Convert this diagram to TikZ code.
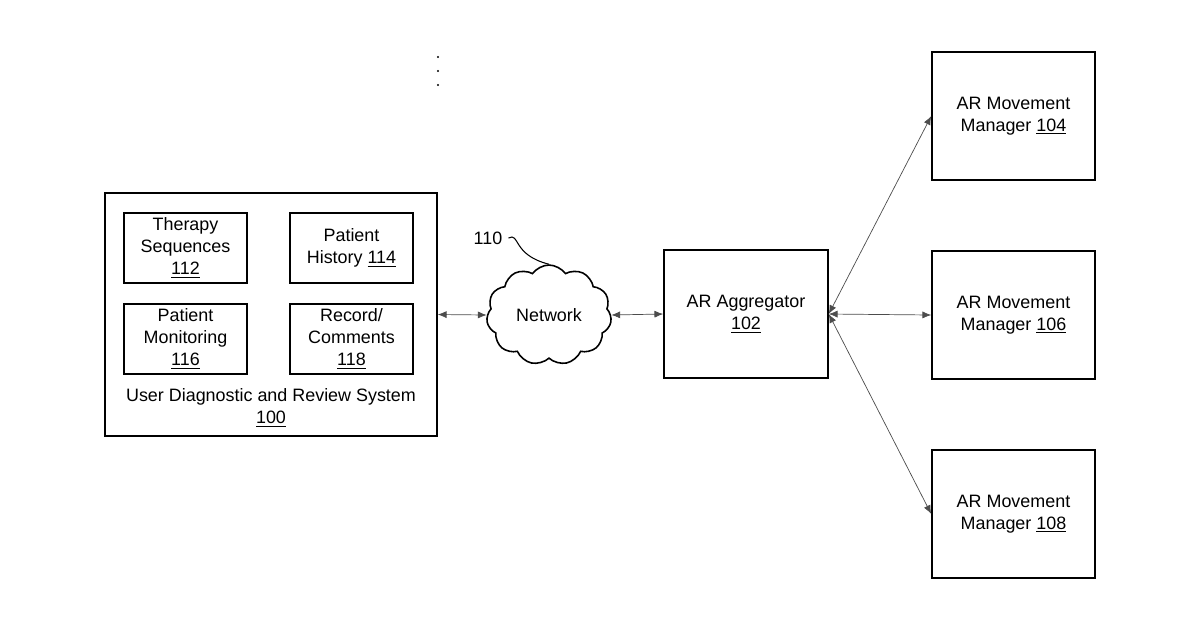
\documentclass[tikz,border=0pt]{standalone}
\usepackage{fontspec}
\setmainfont{Liberation Sans}
\usetikzlibrary{positioning,shapes.symbols,arrows.meta}

\begin{document}
\begin{tikzpicture}
[
x=0.02cm, y=-0.02cm,
font=\fontsize{10.2}{12.4}\selectfont,
box-a/.style={draw, line width=0.9pt, align=center, inner sep=0pt},
box-in/.style={box-a, minimum width=2.46cm, minimum height=1.4cm},
box-mg/.style={box-a, minimum width=3.26cm, minimum height=2.56cm},
link-a/.style={{Latex[length=5pt,width=4pt]}-{Latex[length=5pt,width=4pt]}, line width=0.4pt, black!70}
]
\useasboundingbox (0,0) rectangle (1200,630);
% user side
\node (sys)  [box-a, minimum width=6.64cm, minimum height=4.86cm] at (271,314.5) {};
\node (ther) [box-in] at (185.5,248) {Therapy\\Sequences\\\underline{112}};
\node (hist) [box-in] at (351.5,248) {Patient\\History \underline{114}};
\node (moni) [box-in] at (185.5,339) {Patient\\Monitoring\\\underline{116}};
\node (reco) [box-in] at (351.5,339) {Record/\\Comments\\\underline{118}};
\node (sys-lb) [align=center] at (271,408) {User Diagnostic and Review System\\\underline{100}};
% network
\node (net) [cloud, draw, line width=0.9pt, cloud puffs=11, cloud puff arc=110, aspect=1.3,
  minimum width=2.5cm, minimum height=2cm] at (549,315) {Network};
\node (net-id) at (488,238) {110};
\draw[line width=0.6pt] (net-id.east) .. controls (520,232) and (512,255) .. (net.north);
% aggregator and managers
\node (agg) [box-a, minimum width=3.28cm, minimum height=2.56cm] at (746,314) {AR Aggregator\\\underline{102}};
\node (mg-1) [box-mg] at (1013.5,116) {AR Movement\\Manager \underline{104}};
\node (mg-2) [box-mg] at (1013.5,315) {AR Movement\\Manager \underline{106}};
\node (mg-3) [box-mg] at (1013.5,514) {AR Movement\\Manager \underline{108}};
% dots
\foreach \y in {57,71,85} \fill (438,\y) circle (0.6pt);
% links
\draw[link-a] (sys.east) -- (net.west);
\draw[link-a] (net.east) -- (agg.west);
\draw[link-a] (agg.east) -- (mg-1.west);
\draw[link-a] (agg.east) -- (mg-2.west);
\draw[link-a] (agg.east) -- (mg-3.west);
\end{tikzpicture}
\end{document}
